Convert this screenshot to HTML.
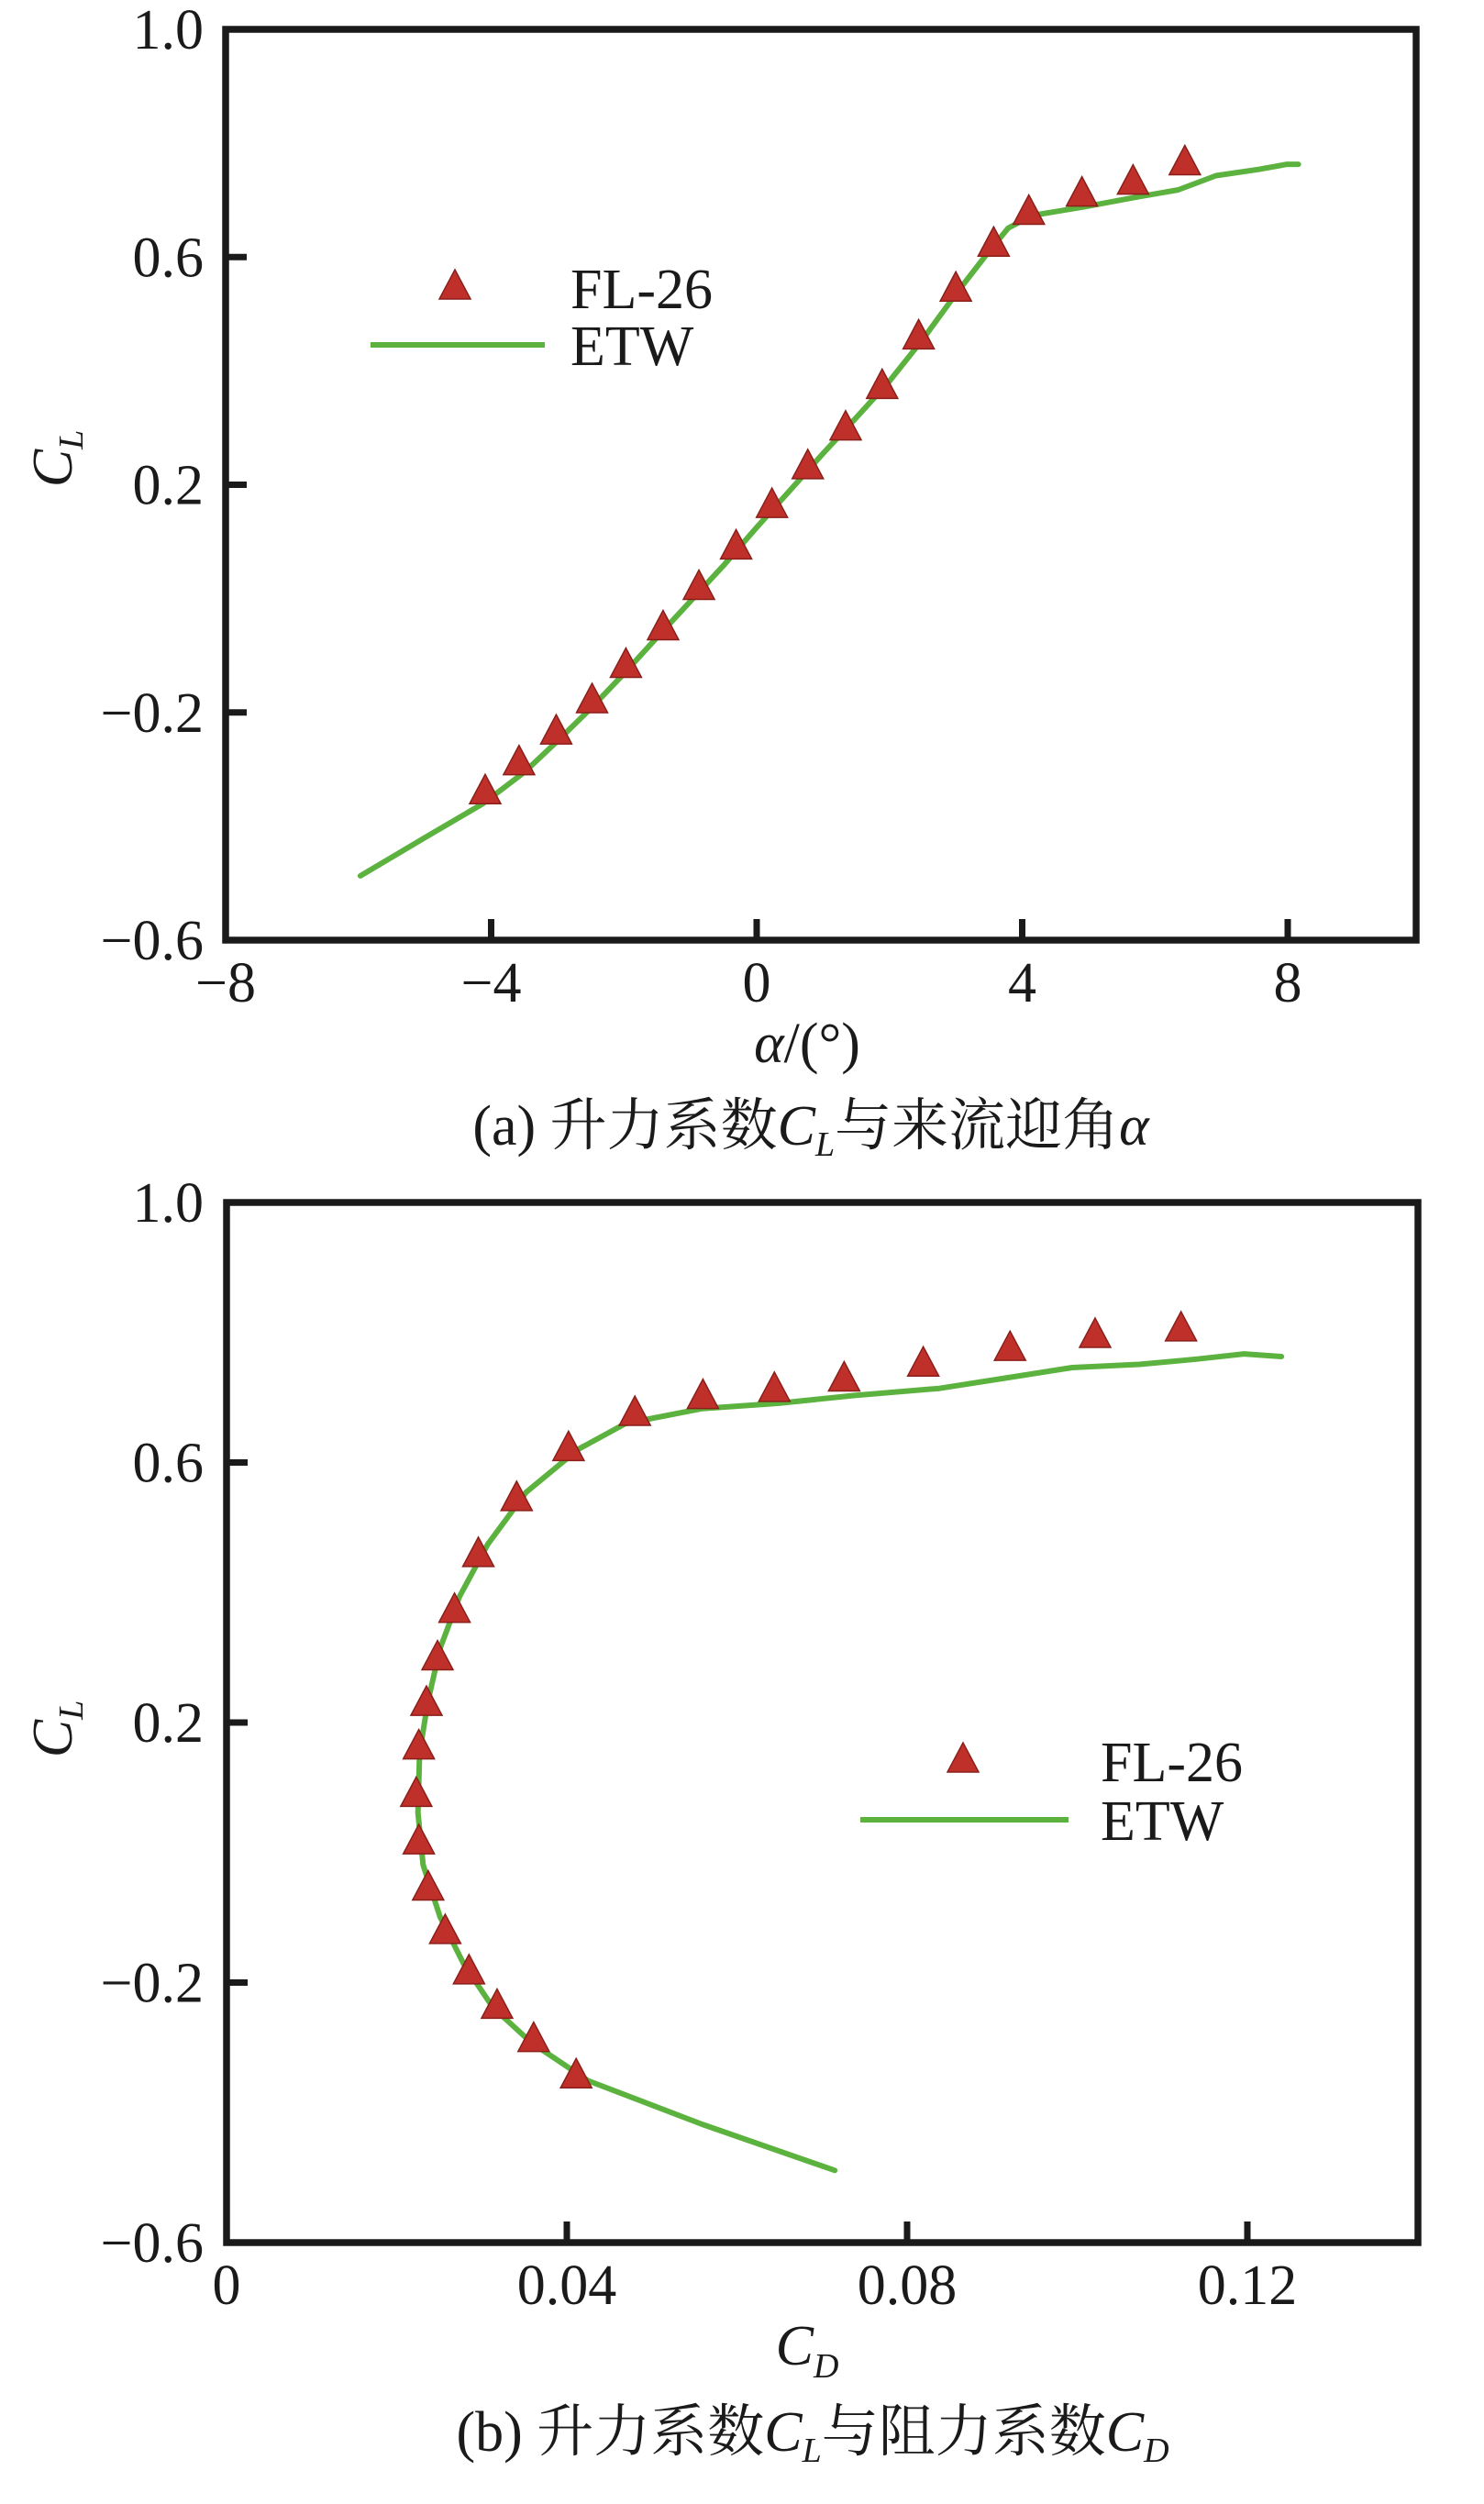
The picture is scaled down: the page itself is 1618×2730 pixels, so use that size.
<!DOCTYPE html>
<html><head><meta charset="utf-8">
<style>
html,body{margin:0;padding:0;background:#fff;}
svg{display:block;font-family:"Liberation Serif","Noto Serif CJK SC",serif;}
</style></head>
<body>
<svg id="svg" width="1618" height="2730" viewBox="0 0 1618 2730" xmlns="http://www.w3.org/2000/svg"></svg>
<script>
// ---- Chart (a) data: CL vs alpha ----
const aFlAlpha = [-4.09,-3.58,-3.02,-2.48,-1.97,-1.41,-0.87,-0.31,0.23,0.77,1.34,1.89,2.44,3.00,3.57,4.10,4.90,5.67,6.45];
const aFlCL    = [-0.341,-0.29,-0.236,-0.181,-0.119,-0.053,0.018,0.089,0.162,0.230,0.298,0.371,0.458,0.542,0.621,0.677,0.709,0.730,0.764];
const aEtwAlpha = [-5.97,-5.0,-4.12,-3.5,-3.0,-2.5,-2.0,-1.5,-1.0,-0.5,0.0,0.5,1.0,1.5,2.0,2.5,3.0,3.5,3.79,4.15,4.93,5.71,6.35,6.92,7.56,7.99,8.16];
const aEtwCL    = [-0.487,-0.42,-0.36,-0.305,-0.25,-0.193,-0.132,-0.068,-0.005,0.058,0.125,0.19,0.255,0.318,0.382,0.455,0.535,0.61,0.651,0.673,0.688,0.705,0.718,0.743,0.754,0.763,0.763];
const aXTicks = [-8,-4,0,4,8];
const aXTickLabels = ["\u22128","\u22124","0","4","8"];
const yTicks = [1.0,0.6,0.2,-0.2,-0.6];
const yTickLabels = ["1.0","0.6","0.2","\u22120.2","\u22120.6"];
// ---- Chart (b) data: CL vs CD ----
const bFlCD = [0.0411,0.0361,0.0318,0.0285,0.0257,0.0237,0.0226,0.0223,0.0226,0.0235,0.0248,0.0268,0.0296,0.0341,0.0402,0.0480,0.0560,0.0644,0.0726,0.0819,0.0921,0.1021,0.1122];
const bFlCL = [-0.345,-0.289,-0.238,-0.185,-0.123,-0.056,0.015,0.088,0.161,0.228,0.298,0.371,0.457,0.543,0.620,0.674,0.700,0.711,0.727,0.750,0.774,0.794,0.804];
const bEtwCD = [0.0715,0.0559,0.0425,0.0358,0.0313,0.0279,0.0251,0.0231,0.0225,0.0227,0.0237,0.0251,0.0274,0.0307,0.0352,0.0413,0.0469,0.0559,0.0648,0.0737,0.0838,0.0916,0.0994,0.1073,0.1140,0.1196,0.1240];
const bEtwCL = [-0.489,-0.418,-0.351,-0.292,-0.238,-0.172,-0.099,-0.019,0.061,0.154,0.234,0.314,0.394,0.474,0.554,0.620,0.660,0.683,0.691,0.703,0.714,0.730,0.746,0.751,0.759,0.767,0.763];
const bXTicks = [0,0.04,0.08,0.12];
const bXTickLabels = ["0","0.04","0.08","0.12"];

const NS = "http://www.w3.org/2000/svg";
const svg = document.getElementById('svg');
function mk(tag, attrs, parent){
  const e = document.createElementNS(NS, tag);
  for (const k in attrs) e.setAttribute(k, attrs[k]);
  (parent||svg).appendChild(e);
  return e;
}
const RED="#c0302b", GREEN="#5cb23e";
function triPts(cx, cy){ return `${cx},${cy-20} ${cx-17},${cy+12} ${cx+17},${cy+12}`; }

function drawChart(cfg){
  const g = mk('g', {});
  
  
  const sx = v => cfg.x0 + (v - cfg.xmin) / (cfg.xmax - cfg.xmin) * (cfg.x1 - cfg.x0);
  const sy = v => cfg.yb + (v - cfg.ymin) / (cfg.ymax - cfg.ymin) * (cfg.yt - cfg.yb);
  const fr = mk('rect', {x:cfg.x0, y:cfg.yt, width:cfg.right-cfg.x0, height:cfg.yb-cfg.yt, fill:'none', stroke:'#1a1a1a', 'stroke-width':7.5}, g);
  
  
  yTicks.forEach((v,i)=>{
    const y = sy(v);
    if (i>0 && i<yTicks.length-1){
      const t = mk('line', {x1:cfg.x0, x2:cfg.x0+23, y1:y, y2:y, stroke:'#1a1a1a','stroke-width':7}, g);
      
      
    }
    const lab = mk('text', {x:222, y:y+21, 'text-anchor':'end', 'font-size':62, fill:'#1a1a1a'}, g);
    lab.textContent = yTickLabels[i];
    
    
  });
  cfg.xTicks.forEach((v,i)=>{
    const x = sx(v);
    if (i>0){
      const t = mk('line', {x1:x, x2:x, y1:cfg.yb, y2:cfg.yb-23, stroke:'#1a1a1a','stroke-width':7}, g);
      
      
    }
    const lab = mk('text', {x:x, y:cfg.yb+67, 'text-anchor':'middle', 'font-size':62, fill:'#1a1a1a'}, g);
    lab.textContent = cfg.xTickLabels[i];
    
    
  });
  const pts = cfg.lx.map((v,i)=> sx(v).toFixed(1)+','+sy(cfg.ly[i]).toFixed(1)).join(' ');
  const pl = mk('polyline', {points:pts, fill:'none', stroke:GREEN, 'stroke-width':6, 'stroke-linejoin':'round','stroke-linecap':'round'}, g);
  
  
  cfg.px.forEach((v,i)=>{
    const cx = sx(v), cy = sy(cfg.py[i]);
    const tr = mk('polygon', {points:triPts(cx,cy), fill:RED, stroke:'#8a1f1a','stroke-width':1.5}, g);
    
    
  });
  const lg = mk('g', {}, g);
  
  
  const L = cfg.legend;
  const lt = mk('polygon', {points:triPts(L.tx,L.ty), fill:RED, stroke:'#8a1f1a','stroke-width':1.5}, lg);
  
  
  const t1 = mk('text', {x:L.textx, y:L.ty+22, 'font-size':62, fill:'#1a1a1a'}, lg);
  t1.textContent = 'FL-26';
  
  
  const ll = mk('line', {x1:L.lx0, x2:L.lx1, y1:L.ly, y2:L.ly, stroke:GREEN, 'stroke-width':6}, lg);
  
  
  const t2 = mk('text', {x:L.textx, y:L.ly+22, 'font-size':62, fill:'#1a1a1a'}, lg);
  t2.textContent = 'ETW';
  
  
  const yt = mk('text', {x:0, y:0, transform:`translate(${cfg.ytx},${cfg.yty}) rotate(-90)`, 'text-anchor':'middle','font-size':62, 'font-style':'italic', fill:'#1a1a1a'}, g);
  yt.innerHTML = 'C<tspan font-size="38" dy="12">L</tspan>';
  
  
  return g;
}

drawChart({name:'chart-a-cl-vs-alpha', x0:246, x1:1404, xmin:-8, xmax:8, right:1544, yt:32, yb:1025, ymin:-0.6, ymax:1.0,
  xTicks:aXTicks, xTickLabels:aXTickLabels, px:aFlAlpha, py:aFlCL, lx:aEtwAlpha, ly:aEtwCL,
  legend:{tx:496, ty:314, textx:622, lx0:404, lx1:594, ly:376}, ytx:78, yty:500});
drawChart({name:'chart-b-cl-vs-cd', x0:247, x1:1360, xmin:0, xmax:0.12, right:1546, yt:1311, yb:2445, ymin:-0.6, ymax:1.0,
  xTicks:bXTicks, xTickLabels:bXTickLabels, px:bFlCD, py:bFlCL, lx:bEtwCD, ly:bEtwCL,
  legend:{tx:1050, ty:1920, textx:1200, lx0:938, lx1:1165, ly:1984}, ytx:78, yty:1885});

function txt(name, x, y, html, size){
  const t = mk('text', {x:x, y:y, 'text-anchor':'middle', 'font-size':size, fill:'#1a1a1a'});
  t.innerHTML = html;
  
  
}
txt('x-axis-title-a', 880, 1158, '<tspan font-style="italic">α</tspan>/(°)', 62);
txt('caption-a', 884, 1248, '(a) 升力系数<tspan font-style="italic">C</tspan><tspan font-style="italic" font-size="38" dy="12">L</tspan><tspan dy="-12">与来流迎角</tspan><tspan font-style="italic">α</tspan>', 62);
txt('x-axis-title-b', 880, 2578, '<tspan font-style="italic">C</tspan><tspan font-style="italic" font-size="38" dy="14">D</tspan>', 62);
txt('caption-b', 886, 2672, '(b) 升力系数<tspan font-style="italic">C</tspan><tspan font-style="italic" font-size="38" dy="12">L</tspan><tspan dy="-12">与阻力系数</tspan><tspan font-style="italic">C</tspan><tspan font-style="italic" font-size="38" dy="12">D</tspan>', 62);
</script>
</body></html>
